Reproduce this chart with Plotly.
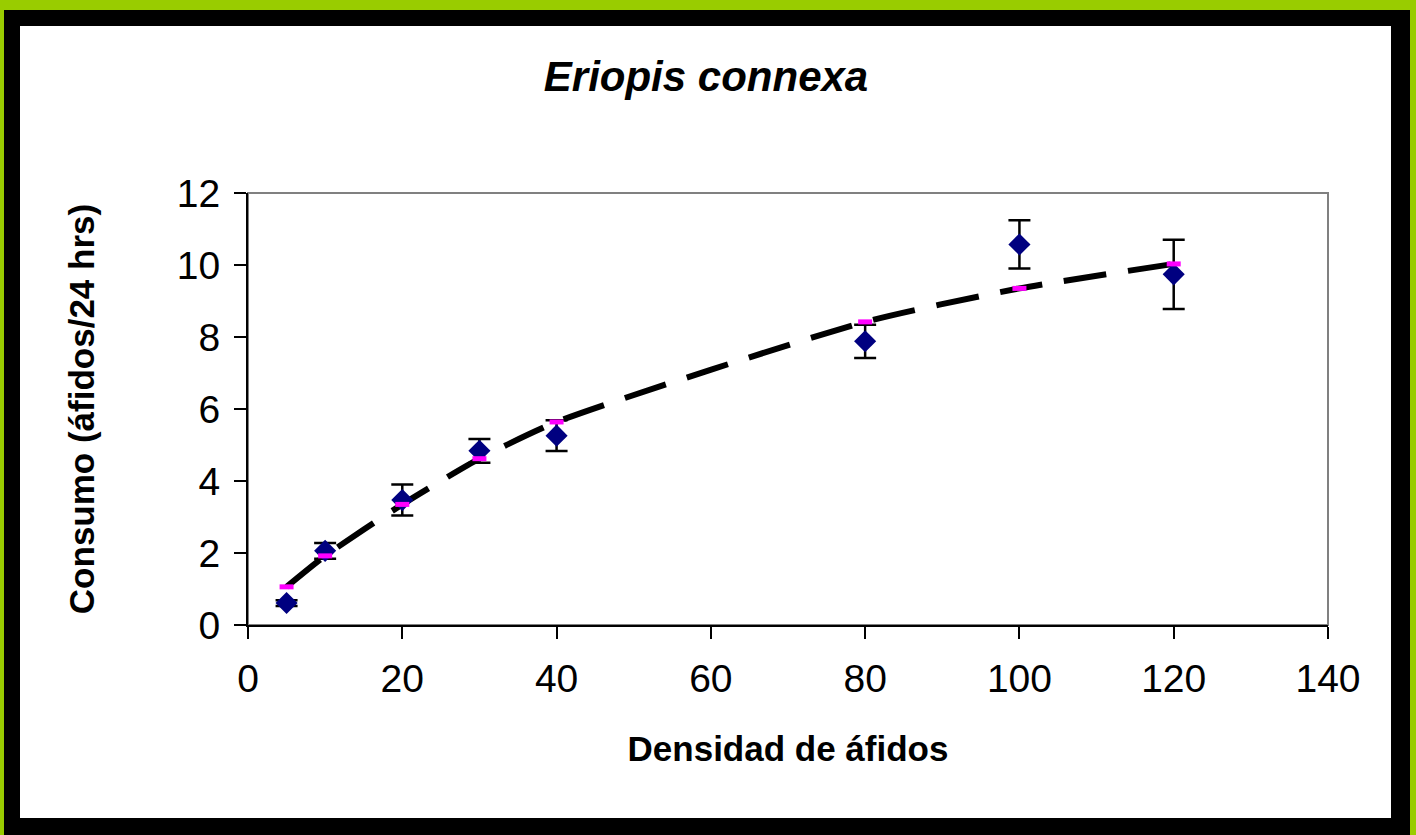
import plotly.graph_objects as go

# data
densidad = [5, 10, 20, 30, 40, 80, 100, 120]
consumo = [0.61, 2.06, 3.47, 4.84, 5.26, 7.88, 10.57, 9.74]
error = [0.08, 0.22, 0.43, 0.33, 0.43, 0.46, 0.67, 0.96]
predicho = [1.06, 1.92, 3.35, 4.62, 5.64, 8.42, 9.35, 10.03]

x_ticks = [0, 20, 40, 60, 80, 100, 120, 140]
y_ticks = [0, 2, 4, 6, 8, 10, 12]

W, H = 1416, 835
L, R, T, B = 248, 88, 193, 210
FONT = "Arial, 'Liberation Sans', sans-serif"


def px_x(px):
    return (px - L) / (W - L - R)


def px_y(py):
    return (H - B - py) / (H - T - B)


fig = go.Figure()

fig.add_trace(go.Scatter(
    x=densidad, y=predicho, mode="lines",
    line=dict(color="black", width=6, dash="43px,22px", shape="spline", smoothing=0.6),
    showlegend=False, hoverinfo="skip",
))
fig.add_trace(go.Scatter(
    x=densidad, y=consumo, mode="markers",
    marker=dict(symbol="diamond", size=17, color="#000080"),
    error_y=dict(type="data", array=error, color="black", thickness=2.5, width=11),
    showlegend=False,
))
fig.add_trace(go.Scatter(
    x=densidad, y=predicho, mode="markers",
    marker=dict(symbol="line-ew", size=10, color="#FF00FF",
                line=dict(color="#FF00FF", width=5)),
    showlegend=False,
))

axis_common = dict(
    showgrid=False, zeroline=False, showline=True, linecolor="black", linewidth=2,
    ticks="outside", ticklen=12, tickwidth=1.5, tickcolor="black",
    tickfont=dict(family=FONT, size=39, color="black"),
    title_font=dict(family=FONT, size=35, color="black", weight="bold"),
)

fig.update_layout(
    width=W, height=H,
    margin=dict(l=L, r=R, t=T, b=B),
    paper_bgcolor="#99CC00",
    plot_bgcolor="white",
    title=dict(
        text="Eriopis connexa", x=706 / W, xref="container", xanchor="center",
        y=1 - 76 / H, yref="container", yanchor="middle",
        font=dict(family=FONT, size=42, color="black", weight="bold", style="italic"),
    ),
    xaxis=dict(**axis_common, range=[0, 140], tickvals=x_ticks, ticklabelstandoff=6,
               title=dict(text="Densidad de áfidos", standoff=38)),
    yaxis=dict(**axis_common, range=[0, 12], tickvals=y_ticks, ticklabelstandoff=6,
               title=dict(text="Consumo (áfidos/24 hrs)", standoff=72)),
    shapes=[
        dict(type="rect", xref="paper", yref="paper", layer="below",
             x0=px_x(4), x1=px_x(1410), y0=px_y(H + 5), y1=px_y(10),
             fillcolor="black", line=dict(width=0)),
        dict(type="rect", xref="paper", yref="paper", layer="below",
             x0=px_x(20), x1=px_x(1391), y0=px_y(818), y1=px_y(26),
             fillcolor="white", line=dict(width=0)),
        dict(type="rect", xref="paper", yref="paper", layer="below",
             x0=0, x1=1, y0=0, y1=1, line=dict(color="#808080", width=2)),
    ],
)

fig.write_html("out.html", config={"displayModeBar": False},
               post_script="document.body.style.margin='0';")
